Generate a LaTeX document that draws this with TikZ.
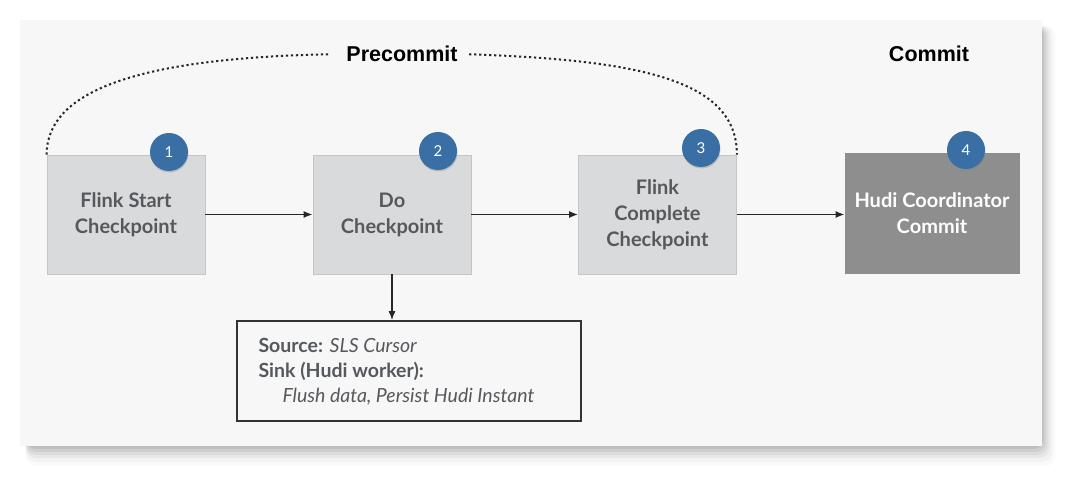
\documentclass[tikz,border=0pt]{standalone}
\usepackage{fontspec}
\setmainfont{Lato}
\newfontfamily\helv{Liberation Sans}
\usetikzlibrary{arrows.meta,shadows}
\definecolor{panel}{HTML}{F7F7F7}
\definecolor{boxfill}{HTML}{D9DADC}
\definecolor{boxedge}{HTML}{C4C5C7}
\definecolor{darkbox}{HTML}{8E8E8E}
\definecolor{txtgray}{HTML}{55585C}
\definecolor{badge}{HTML}{3A6FA6}
\begin{document}
\begin{tikzpicture}[x=1pt,y=-1pt,
  stepbox/.style={draw=boxedge, line width=0.8pt, fill=boxfill, minimum width=158pt, minimum height=119pt, inner sep=0pt, align=center, font=\fontsize{20}{26}\selectfont\bfseries, text=txtgray},
  darkstep/.style={stepbox, fill=darkbox, draw=darkbox, text=white, minimum width=174pt, minimum height=120pt},
  num/.style={circle, fill=badge, minimum size=38pt, inner sep=0pt, text=white, font=\fontsize{15}{15}\selectfont, drop shadow={shadow xshift=0.5pt, shadow yshift=-1.5pt, opacity=0.35}},
  flow/.style={-{Latex[length=9pt,width=7pt]}, line width=1.5pt, black!85},
  bracket/.style={dash pattern=on 2.2pt off 2.8pt, line width=2pt, black!85},
  phase/.style={font=\helv\fontsize{21.5}{21.5}\selectfont\bfseries},
  infotext/.style={anchor=west, text=txtgray, font=\fontsize{19.5}{19.5}\selectfont}
]
\useasboundingbox (0,0) rectangle (1080,486);
\fill[white] (0,0) rectangle (1080,486);
% panel shadow
\foreach \i/\o in {22/0.02,18/0.03,14/0.04,11/0.05,8/0.06,5/0.07,2/0.08}{
  \fill[black, opacity=\o, rounded corners=10pt] (26,26) rectangle (1040+\i*0.7,444+\i);
}
\fill[panel] (20,20) rectangle (1042,446);

\node[stepbox] (s1) at (126,214.5) {Flink Start\\Checkpoint};
\node[stepbox] (s2) at (392,214.5) {Do\\Checkpoint};
\node[stepbox] (s3) at (657.5,214.5) {Flink\\Complete\\Checkpoint};
\node[darkstep] (s4) at (932,213) {Hudi Coordinator\\Commit};

\node[num] (n1) at (169,152) {1};
\node[num] (n2) at (438,151) {2};
\node[num] (n3) at (701,148) {3};
\node[num] (n4) at (966,150) {4};

\draw[flow] (s1.east) -- (s2.west);
\draw[flow] (s2.east) -- (s3.west);
\draw[flow] (s3.east) -- (s3.east -| s4.west);

\node[draw=black!80, line width=1.5pt, fill=panel, minimum width=344pt, minimum height=100pt, inner sep=0pt] (info) at (409,371) {};
\node[infotext] (l1) at (255,345) {\textbf{Source:} \textit{SLS Cursor}};
\node[infotext, font=\fontsize{19.5}{19.5}\selectfont\bfseries] (l2) at (255,371) {Sink (Hudi worker):};
\node[infotext, font=\fontsize{19.5}{19.5}\selectfont\itshape] (l3) at (279,397) {Flush data, Persist Hudi Instant};
\draw[flow] (s2.south) -- (s2.south |- info.north);

\node[phase] (pre) at (402,54) {Precommit};
\node[phase] (com) at (929,54) {Commit};
\coordinate (a) at (s1.north west);
\coordinate (b) at (s3.north east);
\draw[bracket, shorten >=12pt] (a) .. controls (47,90) and (140,58) .. (pre.west);
\draw[bracket, shorten <=8pt] (pre.east) .. controls (640,60) and (737,80) .. (b);
\end{tikzpicture}
\end{document}
